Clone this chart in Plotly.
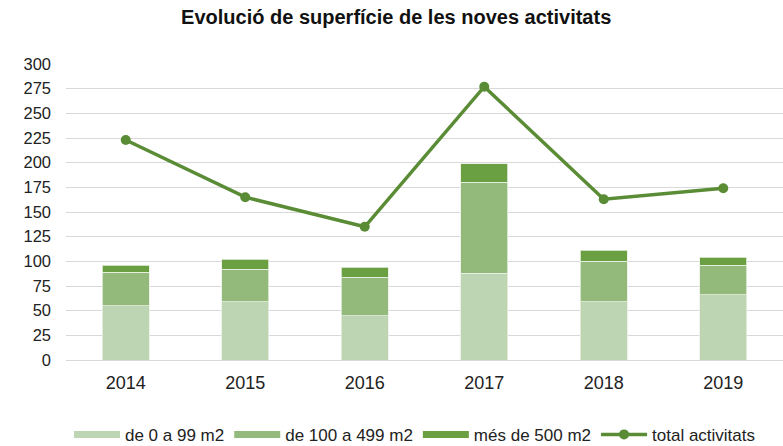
import plotly.graph_objects as go

years = ["2014", "2015", "2016", "2017", "2018", "2019"]
small = [55, 59, 45, 88, 59, 66]
medium = [34, 33, 39, 92, 41, 30]
large = [7, 10, 10, 19, 11, 8]
total = [223, 165, 135, 277, 163, 174]
y_ticks = [0, 25, 50, 75, 100, 125, 150, 175, 200, 225, 250, 275, 300]

names = ["de 0 a 99 m2", "de 100 a 499 m2", "més de 500 m2", "total activitats"]
colors = ["#bdd5b2", "#93ba7b", "#6a9f42", "#5a8c36"]

font_family = "Liberation Sans, Arial, sans-serif"

fig = go.Figure()
for vals, name, col in zip([small, medium, large], names[:3], colors[:3]):
    fig.add_trace(go.Bar(x=years, y=vals, name=name, showlegend=False, legendgroup=name,
                         marker=dict(color=col, line=dict(color="#e8f0e4", width=0.8))))
    # legend stand-in: wide flat swatch like the original
    fig.add_trace(go.Scatter(x=[years[0]], y=[None], name=name, legendgroup=name,
                             mode="lines", line=dict(color=col, width=7),
                             hoverinfo="skip"))
fig.add_trace(go.Scatter(x=years, y=total, name=names[3], mode="lines+markers",
                         line=dict(color=colors[3], width=3.5),
                         marker=dict(color=colors[3], size=10)))

fig.update_layout(
    width=783, height=446,
    barmode="stack", bargap=0.61,
    plot_bgcolor="white", paper_bgcolor="white",
    margin=dict(l=66, r=0, t=64, b=86, autoexpand=False),
    font=dict(family=font_family, size=18, color="#222222"),
    title=dict(text="<b>Evolució de superfície de les noves activitats</b>",
               xref="container", x=0.506, xanchor="center",
               yref="container", y=0.962, yanchor="middle",
               font=dict(size=20, color="#111111")),
    xaxis=dict(type="category", range=[-0.5, 5.5], showgrid=False,
               showline=False, ticks="", ticklabelstandoff=10, tickfont=dict(size=18)),
    yaxis=dict(range=[0, 300], tickvals=y_ticks, showgrid=True,
               gridcolor="#d9d9d9", gridwidth=1.3, zeroline=True,
               zerolinecolor="#d9d9d9", zerolinewidth=1.3,
               ticks="", ticklabelstandoff=14, tickfont=dict(size=16.5)),
    legend=dict(orientation="h", xref="container", x=0.53, xanchor="center",
                yref="container", y=0.025, yanchor="middle",
                font=dict(size=17), itemwidth=46, traceorder="normal",
                bgcolor="rgba(0,0,0,0)"),
    showlegend=True,
)

fig.write_html("out.html", config={"displayModeBar": False},
               post_script="document.body.style.margin='0';")
